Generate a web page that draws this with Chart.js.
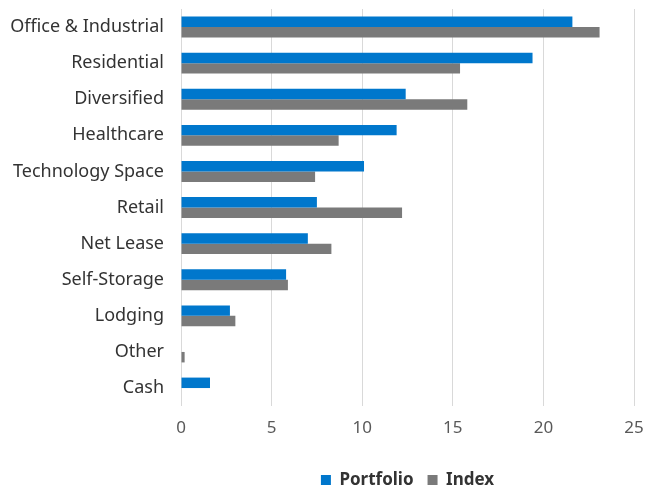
<!DOCTYPE html>
<html>
<head>
<meta charset="utf-8">
<script src="https://cdn.jsdelivr.net/npm/chart.js@4"></script>
<style>
  html, body { margin: 0; padding: 0; background: #fff; }
  #wrap { width: 646px; height: 486px; }
</style>
</head>
<body>
<div id="wrap"><canvas id="sectorChart"></canvas></div>
<script>
// Sector weights (%)
const categories = ['Office & Industrial', 'Residential', 'Diversified', 'Healthcare', 'Technology Space',
  'Retail', 'Net Lease', 'Self-Storage', 'Lodging', 'Other', 'Cash'];
const portfolio = [21.6, 19.4, 12.4, 11.9, 10.1, 7.5, 7.0, 5.8, 2.7, 0, 1.6];
const index = [23.1, 15.4, 15.8, 8.7, 7.4, 12.2, 8.3, 5.9, 3.0, 0.2, 0];
const xTicks = [0, 5, 10, 15, 20, 25];

const font = "'Noto Sans', sans-serif";

const ctx = document.getElementById('sectorChart').getContext('2d');
new Chart(ctx, {
    type: 'bar',
    data: {
        labels: categories,
        datasets: [{
            label: 'Portfolio',
            data: portfolio,
            backgroundColor: '#0077cc',
            barPercentage: 1.0,
            categoryPercentage: 0.58
        }, {
            label: 'Index',
            data: index,
            backgroundColor: '#7a7a7a',
            barPercentage: 1.0,
            categoryPercentage: 0.58
        }]
    },
    options: {
        indexAxis: 'y',
        responsive: true,
        maintainAspectRatio: false,
        animation: false,
        // negative bottom lets the legend sit close to the bottom edge
        layout: { padding: { top: 9, right: 12, left: 0, bottom: -12.5 } },
        scales: {
            x: {
                min: xTicks[0],
                max: xTicks[xTicks.length - 1],
                afterBuildTicks: axis => { axis.ticks = xTicks.map(v => ({ value: v })); },
                afterFit: s => { s.paddingLeft = 0; s.paddingRight = 0; s.height += 7; },
                grid: { color: '#d9d9d9', lineWidth: 1, drawTicks: false },
                border: { display: false },
                ticks: { color: '#595959', font: { family: font, size: 17 }, padding: 12 }
            },
            y: {
                afterFit: s => { s.width = 181; s.paddingTop = 0; s.paddingBottom = 0; },
                grid: { display: false, drawTicks: false },
                border: { display: false },
                ticks: { color: '#333', font: { family: font, size: 18 }, padding: 17 }
            }
        },
        plugins: {
            legend: {
                position: 'bottom',
                fullSize: false,
                labels: {
                    color: '#333',
                    font: { family: font, size: 17, weight: 'bold' },
                    boxWidth: 10,
                    boxHeight: 10,
                    padding: 14
                }
            },
            tooltip: { enabled: false }
        }
    }
});
</script>
</body>
</html>
